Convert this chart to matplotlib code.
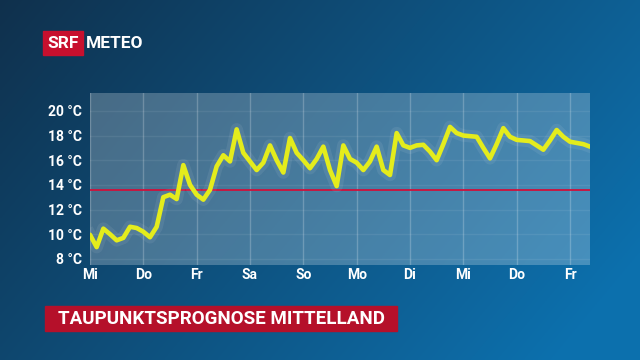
import matplotlib
matplotlib.use("Agg")
import matplotlib.pyplot as plt
import numpy as np
from matplotlib.patches import Rectangle

# Taupunkt Mittelland, Werte alle 3 Stunden ab Mittwoch 00 Uhr
stunden = list(range(0, 226, 3))
taupunkt = [
    9.95, 8.95, 10.45, 10.0, 9.5, 9.7, 10.6, 10.5, 10.2, 9.75,
    10.6, 13.0, 13.2, 12.85, 15.6, 14.0, 13.2, 12.8, 13.6, 15.5,
    16.4, 15.9, 18.5, 16.6, 15.9, 15.2, 15.8, 17.2, 16.0, 15.0,
    17.8, 16.6, 16.0, 15.35, 16.1, 17.1, 15.2, 13.9, 17.2, 16.1,
    15.8, 15.2, 15.9, 17.1, 15.2, 14.8, 18.2, 17.2, 17.0, 17.2,
    17.25, 16.7, 16.0, 17.3, 18.7, 18.2, 18.0, 17.95, 17.9, 17.0,
    16.15, 17.3, 18.6, 17.9, 17.65, 17.6, 17.55, 17.2, 16.85, 17.6,
    18.45, 17.9, 17.5, 17.4, 17.3, 17.1,
]
tage = ["Mi", "Do", "Fr", "Sa", "So", "Mo", "Di", "Mi", "Do", "Fr"]
y_ticks = [8, 10, 12, 14, 16, 18, 20]
grenze = 13.6

fig = plt.figure(figsize=(6.4, 3.6), dpi=100)
plt.rcParams['font.family'] = ['Roboto', 'DejaVu Sans']

# Hintergrund mit Farbverlauf
bg = fig.add_axes([0, 0, 1, 1])
gx = np.linspace(0, 1, 256)
gy = np.linspace(0, 1, 256)
X, Y = np.meshgrid(gx, gy)
t = np.clip(0.75 * X + 0.35 * Y, 0, 1)
c0 = np.array([0.06, 0.19, 0.30])
c1 = np.array([0.05, 0.44, 0.68])
img = c0[None, None, :] * (1 - t[..., None]) + c1[None, None, :] * t[..., None]
bg.imshow(img, extent=[0, 1, 0, 1], aspect='auto', origin='upper')
bg.set_axis_off()

# Diagramm
ax = fig.add_axes([90 / 640, 95 / 360, 500 / 640, 172 / 360])
ax.set_facecolor((1, 1, 1, 0.24))
ax.set_xlim(0, 225)
ax.set_ylim(7.5, 21.45)
for s in ax.spines.values():
    s.set_visible(False)

for i in range(len(tage)):
    ax.axvline(i * 24, color='white', alpha=0.22, lw=1)
for v in y_ticks:
    ax.axhline(v, color='white', alpha=0.07, lw=1)

ax.axhline(grenze, color='#d0103a', lw=1.3, zorder=3)
ax.plot(stunden, taupunkt, color='white', alpha=0.07, lw=9, solid_joinstyle='round', zorder=4)
ax.plot(stunden, taupunkt, color='#e4ec1c', lw=3.3, solid_joinstyle='round',
        solid_capstyle='round', zorder=5)

ax.set_yticks(y_ticks)
ax.set_yticklabels([f"{v} °C" for v in y_ticks])
ax.set_xticks([i * 24 for i in range(len(tage))])
ax.set_xticklabels(tage)
ax.tick_params(axis='y', length=0, colors='white', labelsize=10, pad=6)
ax.tick_params(axis='x', length=0, colors='white', labelsize=10, pad=2)
for lab in ax.get_xticklabels() + ax.get_yticklabels():
    lab.set_fontweight('bold')

# Logo
fig.patches.append(Rectangle((43 / 640, 1 - 55 / 360), 40 / 640, 24 / 360,
                             transform=fig.transFigure, color='#c8102e'))
fig.text(63 / 640, 1 - 43 / 360, "SRF", color='white', fontsize=12.5,
         fontweight='bold', ha='center', va='center')
fig.text(86 / 640, 1 - 43 / 360, "METEO", color='white', fontsize=12.5,
         fontweight='bold', ha='left', va='center')

# Titel
fig.patches.append(Rectangle((45 / 640, 1 - 331 / 360), 352 / 640, 25 / 360,
                             transform=fig.transFigure, color='#b5102a'))
fig.text(221 / 640, 1 - 318.5 / 360, "TAUPUNKTSPROGNOSE MITTELLAND", color='white',
         fontsize=13.5, fontweight='bold', ha='center', va='center')

fig.savefig("out.png", dpi=100)
